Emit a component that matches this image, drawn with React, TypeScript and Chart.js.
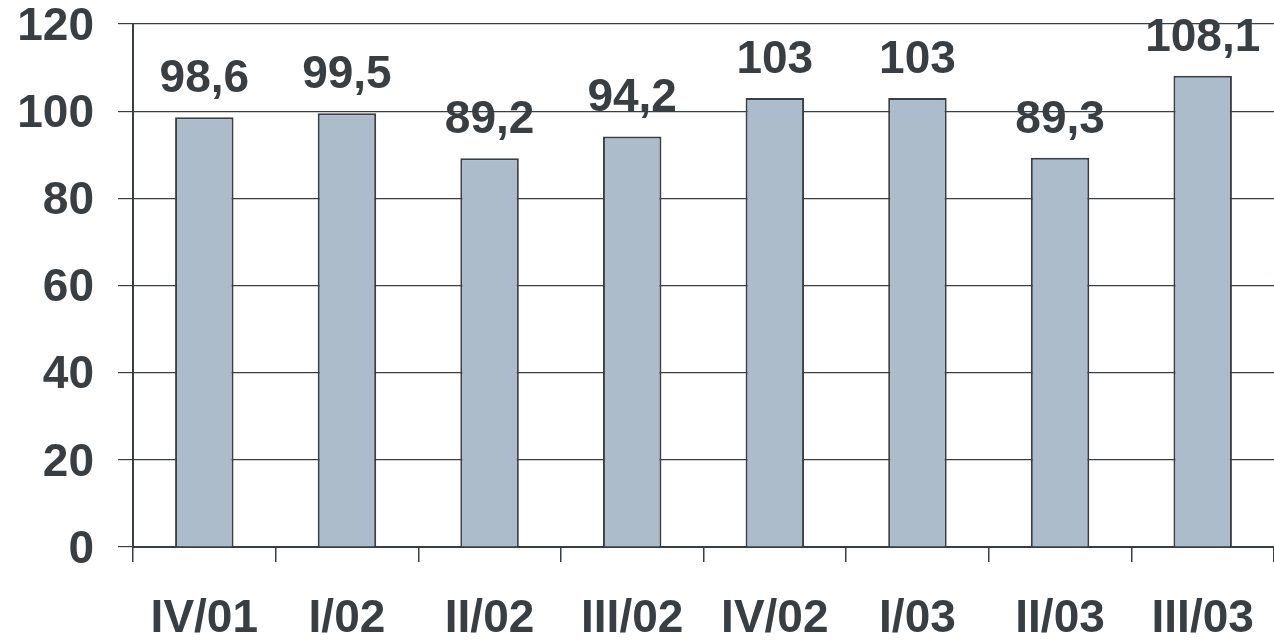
import React, { useEffect, useRef } from "react";
import { Chart, registerables } from "chart.js";

Chart.register(...registerables);

const quarters = ["IV/01", "I/02", "II/02", "III/02", "IV/02", "I/03", "II/03", "III/03"];
const values = [98.6, 99.5, 89.2, 94.2, 103, 103, 89.3, 108.1];
const valueLabels = ["98,6", "99,5", "89,2", "94,2", "103", "103", "89,3", "108,1"];
const yTicks = [0, 20, 40, 60, 80, 100, 120];

const FONT = '"Liberation Sans", Arial, Helvetica, sans-serif';
const INK = "#393e43";

// Writes the value above each bar
const valueLabelPlugin = {
  id: "valueLabels",
  afterDatasetsDraw(chart: any) {
    const ctx = chart.ctx;
    const meta = chart.getDatasetMeta(0);
    ctx.save();
    ctx.font = `bold 46px ${FONT}`;
    ctx.fillStyle = INK;
    ctx.textAlign = "center";
    ctx.textBaseline = "alphabetic";
    meta.data.forEach((bar: any, i: number) => {
      ctx.fillText(valueLabels[i], bar.x, bar.y - 25);
    });
    ctx.restore();
  },
};

export default function App() {
  const canvasRef = useRef<HTMLCanvasElement | null>(null);

  useEffect(() => {
    if (!canvasRef.current) return;
    const chart = new Chart(canvasRef.current, {
      type: "bar",
      data: {
        labels: quarters,
        datasets: [
          {
            data: values,
            backgroundColor: "#adbccb",
            borderColor: "#3a3f44",
            borderWidth: 2,
            categoryPercentage: 1,
            barPercentage: 0.41,
          },
        ],
      },
      options: {
        animation: false,
        responsive: false,
        maintainAspectRatio: false,
        layout: { padding: { top: 24, right: 0, left: 0, bottom: 0 } },
        plugins: {
          legend: { display: false },
          tooltip: { enabled: false },
        },
        scales: {
          x: {
            offset: true,
            afterFit(scale: any) {
              scale.height = 95;
              scale.paddingLeft = 0;
              scale.paddingRight = 0;
            },
            grid: {
              offset: true,
              drawOnChartArea: false,
              drawTicks: true,
              tickLength: 15,
              color: INK,
              lineWidth: 1.5,
            },
            border: { display: true, color: INK, width: 2 },
            ticks: {
              color: INK,
              font: { family: FONT, size: 46, weight: "bold" },
              padding: 30,
              maxRotation: 0,
              autoSkip: false,
            },
          },
          y: {
            min: 0,
            max: 120,
            afterFit(scale: any) {
              scale.width = 133;
              scale.paddingTop = 0;
              scale.paddingBottom = 0;
            },
            afterBuildTicks(scale: any) {
              scale.ticks = yTicks.map((v) => ({ value: v }));
            },
            grid: {
              color: INK,
              lineWidth: 1.2,
              tickLength: 15,
            },
            border: { display: true, color: INK, width: 2 },
            ticks: {
              color: INK,
              font: { family: FONT, size: 46, weight: "bold" },
              padding: 24,
              labelOffset: 3,
            },
          },
        },
      },
      plugins: [valueLabelPlugin],
    });
    return () => chart.destroy();
  }, []);

  return (
    <div style={{ position: "fixed", left: 0, top: 0, width: 1274, height: 642, background: "#fff" }}>
      <canvas ref={canvasRef} width={1274} height={642} style={{ display: "block" }} />
    </div>
  );
}
